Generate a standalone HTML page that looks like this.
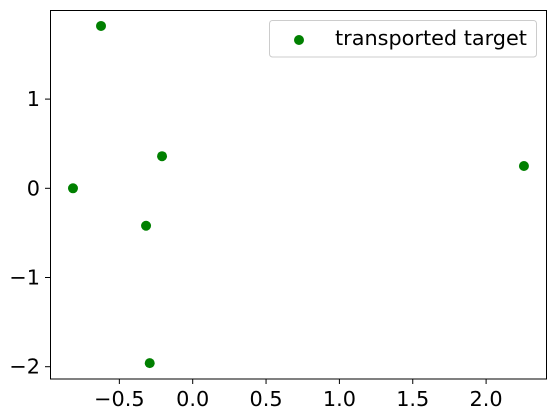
<!DOCTYPE html>
<html><head><meta charset="utf-8"><style>
html,body{margin:0;padding:0;background:#fff;}
svg{display:block;font-family:"DejaVu Sans","Liberation Sans",sans-serif;}
</style></head><body>
<svg id="chart" width="556" height="419" viewBox="0 0 556 419">
<rect x="0" y="0" width="556" height="419" fill="#fff"/>
<g id="marks"></g>
<g id="axes"></g>
<rect x="50.5" y="10.5" width="496" height="368.5" fill="none" stroke="#000" stroke-width="1"/>
<g>
<rect x="269.5" y="20.5" width="267" height="36.5" rx="3" fill="#fff" fill-opacity="0.8" stroke="#ccc"/>
<circle cx="299" cy="40" r="5" fill="#008000"/>
<text x="335" y="45" font-size="20.8" fill="#000">transported target</text>
</g>
</svg>
<script>
const xValues = [-0.625, -0.816, -0.209, -0.318, -0.293, 2.258];
const yValues = [1.82, 0.0, 0.36, -0.42, -1.96, 0.25];
const xTicks = [-0.5, 0.0, 0.5, 1.0, 1.5, 2.0];
const xTickLabels = ["\u22120.5", "0.0", "0.5", "1.0", "1.5", "2.0"];
const yTicks = [1, 0, -1, -2];
const yTickLabels = ["1", "0", "\u22121", "\u22122"];
const NS = "http://www.w3.org/2000/svg";
function sx(v){ return 192.7 + v * 146.7; }
function sy(v){ return 188.3 - v * 89.2; }
const marks = document.getElementById('marks');
const axes = document.getElementById('axes');
xValues.forEach((xv, i) => {
  const c = document.createElementNS(NS, 'circle');
  c.setAttribute('cx', sx(xv));
  c.setAttribute('cy', sy(yValues[i]));
  c.setAttribute('r', 5);
  c.setAttribute('fill', '#008000');
  
  
  marks.appendChild(c);
});
xTicks.forEach((t, i) => {
  const x = sx(t);
  const l = document.createElementNS(NS, 'line');
  l.setAttribute('x1', x); l.setAttribute('x2', x);
  l.setAttribute('y1', 379); l.setAttribute('y2', 384);
  l.setAttribute('stroke', '#000');
  
  
  axes.appendChild(l);
  const tx = document.createElementNS(NS, 'text');
  tx.setAttribute('x', x); tx.setAttribute('y', 406);
  tx.setAttribute('text-anchor', 'middle');
  tx.setAttribute('font-size', '20.8');
  tx.textContent = xTickLabels[i];
  
  
  axes.appendChild(tx);
});
yTicks.forEach((t, i) => {
  const y = sy(t);
  const l = document.createElementNS(NS, 'line');
  l.setAttribute('x1', 45); l.setAttribute('x2', 50.5);
  l.setAttribute('y1', y); l.setAttribute('y2', y);
  l.setAttribute('stroke', '#000');
  
  
  axes.appendChild(l);
  const tx = document.createElementNS(NS, 'text');
  tx.setAttribute('x', 40); tx.setAttribute('y', y + 7);
  tx.setAttribute('text-anchor', 'end');
  tx.setAttribute('font-size', '20.8');
  tx.textContent = yTickLabels[i];
  
  
  axes.appendChild(tx);
});
</script>
</body></html>
